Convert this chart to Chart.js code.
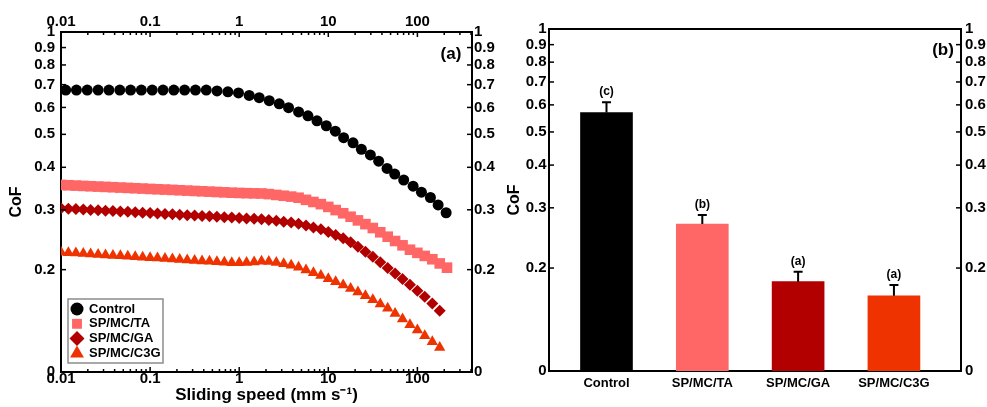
<!DOCTYPE html>
<html>
<head>
<meta charset="utf-8">
<script src="https://cdn.jsdelivr.net/npm/chart.js@4.4.1/dist/chart.umd.min.js"></script>
<style>
  html, body { margin: 0; padding: 0; background: #fff; }
  #wrap { position: relative; width: 987px; height: 407px; }
  canvas { position: absolute; top: 0; }
  #speedChart { left: 0; }
  #barChart { left: 496px; }
</style>
</head>
<body>
<div id="wrap">
  <canvas id="speedChart" width="496" height="407"></canvas>
  <canvas id="barChart" width="491" height="407"></canvas>
</div>
<script>
// ---- (a) CoF vs sliding speed ----
const controlSpeed = [0.0113, 0.0149, 0.0197, 0.0261, 0.0345, 0.0457, 0.0604, 0.0798, 0.1056, 0.1396,
  0.1846, 0.244, 0.323, 0.427, 0.564, 0.746, 0.982, 1.296, 1.677, 2.174,
  2.814, 3.58, 4.64, 5.91, 7.46, 9.5, 11.99, 14.86, 18.95, 23.49,
  29.65, 36.75, 45.65, 55.6, 70.2, 89.5, 110.9, 140, 170.9, 210.1];
const controlCoF = [0.675, 0.675, 0.675, 0.675, 0.675, 0.675, 0.675, 0.675, 0.675, 0.675,
  0.675, 0.675, 0.675, 0.675, 0.671, 0.667, 0.662, 0.651, 0.641, 0.628,
  0.615, 0.599, 0.582, 0.567, 0.548, 0.530, 0.511, 0.489, 0.472, 0.452,
  0.435, 0.417, 0.397, 0.382, 0.367, 0.352, 0.338, 0.326, 0.310, 0.294];

// treated samples were logged on a denser speed grid
const speed = [0.01, 0.0121, 0.0147, 0.0178, 0.0215, 0.0261, 0.0316, 0.0383, 0.0464, 0.0562, 0.0681, 0.0825,
  0.1, 0.121, 0.147, 0.178, 0.215, 0.261, 0.316, 0.383, 0.464, 0.562, 0.681, 0.825,
  1, 1.21, 1.47, 1.78, 2.15, 2.61, 3.16, 3.83, 4.64, 5.62, 6.81, 8.25,
  10, 12.1, 14.7, 17.8, 21.5, 26.1, 31.6, 38.3, 46.4, 56.2, 68.1, 82.5,
  100, 121, 147, 178, 215];
const taCoF = [0.355, 0.3542, 0.3534, 0.3526, 0.3518, 0.351, 0.3503, 0.3495, 0.3487, 0.3479, 0.3471, 0.3463,
  0.3455, 0.3447, 0.344, 0.3432, 0.3424, 0.3416, 0.3408, 0.34, 0.3392, 0.3384, 0.3376, 0.3368,
  0.3362, 0.3357, 0.3353, 0.335, 0.3336, 0.3317, 0.3299, 0.328, 0.3255, 0.3209, 0.3163, 0.3117,
  0.3059, 0.2994, 0.293, 0.2862, 0.2792, 0.2722, 0.2651, 0.2576, 0.25, 0.2428, 0.2358, 0.2289,
  0.2241, 0.2195, 0.2146, 0.2086, 0.2027];
const gaCoF = [0.303, 0.3022, 0.3014, 0.3006, 0.2998, 0.299, 0.2982, 0.2974, 0.2966, 0.2958, 0.295, 0.2942,
  0.2933, 0.2925, 0.2917, 0.2909, 0.2901, 0.2893, 0.2885, 0.2877, 0.2869, 0.2861, 0.2853, 0.2845,
  0.2837, 0.2829, 0.2822, 0.2815, 0.28, 0.2784, 0.2767, 0.2751, 0.2731, 0.2696, 0.2662, 0.2628,
  0.2582, 0.2528, 0.2474, 0.2409, 0.2334, 0.2259, 0.2182, 0.2103, 0.2024, 0.1949, 0.1878, 0.1807,
  0.1735, 0.1664, 0.1591, 0.1513];
const c3gCoF = [0.225, 0.2243, 0.2237, 0.223, 0.2223, 0.2216, 0.221, 0.2203, 0.2196, 0.219, 0.2183, 0.2176,
  0.2169, 0.2163, 0.2156, 0.2149, 0.2143, 0.2136, 0.2129, 0.2122, 0.2116, 0.2109, 0.2102, 0.2097,
  0.2095, 0.2098, 0.2108, 0.2118, 0.2115, 0.21, 0.2082, 0.2062, 0.2032, 0.1995, 0.1958, 0.1921,
  0.1882, 0.1842, 0.1803, 0.1761, 0.1718, 0.1675, 0.1631, 0.1585, 0.1539, 0.1487, 0.1433, 0.1378,
  0.1328, 0.1279, 0.1227, 0.118];

const samples = ['Control', 'SP/MC/TA', 'SP/MC/GA', 'SP/MC/C3G'];
const sampleColors = ['#000000', '#ff6666', '#b20000', '#ee3300'];

// ---- (b) mean CoF per sample ----
const meanCoF = [0.570, 0.269, 0.1825, 0.166];
const errCoF = [0.041, 0.017, 0.0125, 0.0125];
const groupLetters = ['(c)', '(b)', '(a)', '(a)'];

const speedTicks = [0.01, 0.1, 1, 10, 100];
const cofTicks = [0.1, 0.2, 0.3, 0.4, 0.5, 0.6, 0.7, 0.8, 0.9, 1];

const FONT = "'Liberation Sans', Arial, sans-serif";
Chart.defaults.font.family = FONT;
Chart.defaults.font.weight = 'bold';
Chart.defaults.color = '#000';

const pts = (xs, ys) => ys.map((y, i) => ({ x: xs[i], y }));
const cofLabel = v => (v === 0.1 ? '0' : String(v));
const setTicks = list => s => { s.ticks = list.map(v => ({ value: v })); };
const setW = w => s => { s.width = w; };
const setH = h => s => { s.height = h; };
const axisLine = { color: '#000', width: 2 };
const noGrid = { display: false, drawTicks: false };

const speedMinor = [];
speedTicks.forEach(d => { for (let m = 2; m <= 9; m++) if (d * m <= 410) speedMinor.push(d * m); });

// tick marks pointing into the plot, like the original
function innerTicks(spec) {
  return {
    id: 'innerTicks',
    afterDraw(chart) {
      const { ctx, chartArea: a } = chart;
      ctx.save();
      ctx.strokeStyle = '#000';
      ctx.lineWidth = 1.5;
      spec.forEach(({ axis, values, len }) => {
        const s = chart.scales[axis];
        values.forEach(v => {
          const p = s.getPixelForValue(v);
          ctx.beginPath();
          if (s.position === 'left') { ctx.moveTo(a.left, p); ctx.lineTo(a.left + len, p); }
          else if (s.position === 'right') { ctx.moveTo(a.right, p); ctx.lineTo(a.right - len, p); }
          else if (s.position === 'top') { ctx.moveTo(p, a.top); ctx.lineTo(p, a.top + len); }
          else { ctx.moveTo(p, a.bottom); ctx.lineTo(p, a.bottom - len); }
          ctx.stroke();
        });
      });
      ctx.restore();
    }
  };
}

function panelTag(text, x, y) {
  return {
    id: 'panelTag',
    afterDraw(chart) {
      const ctx = chart.ctx;
      ctx.save();
      ctx.font = 'bold 17px ' + FONT;
      ctx.fillStyle = '#000';
      ctx.textAlign = 'center';
      ctx.textBaseline = 'middle';
      ctx.fillText(text, x, y);
      ctx.restore();
    }
  };
}

const legendRadius = [6.5, 7, 7.5, 8];
const boxLegend = {
  id: 'boxLegend',
  afterDraw(chart) {
    const ctx = chart.ctx;
    ctx.save();
    ctx.fillStyle = '#fff';
    ctx.fillRect(68, 299, 95, 64);
    ctx.strokeStyle = '#8c8c8c';
    ctx.lineWidth = 1.5;
    ctx.strokeRect(68, 299, 95, 64);
    ctx.font = 'bold 13px ' + FONT;
    ctx.textBaseline = 'middle';
    chart.data.datasets.forEach((ds, i) => {
      const y = 309 + i * 14.8;
      ctx.fillStyle = ds.backgroundColor;
      Chart.helpers.drawPoint(ctx, { pointStyle: ds.pointStyle, radius: legendRadius[i], rotation: 0, borderWidth: 0 }, 77, y);
      ctx.fillStyle = '#000';
      ctx.fillText(ds.label, 89, y);
    });
    ctx.restore();
  }
};

const errorBars = {
  id: 'errorBars',
  afterDatasetsDraw(chart) {
    const { ctx, scales: { x, y } } = chart;
    ctx.save();
    ctx.strokeStyle = '#000';
    ctx.fillStyle = '#000';
    ctx.lineWidth = 2;
    ctx.font = 'bold 12px ' + FONT;
    ctx.textAlign = 'center';
    ctx.textBaseline = 'middle';
    meanCoF.forEach((m, i) => {
      const px = x.getPixelForValue(i);
      const y0 = y.getPixelForValue(m);
      const y1 = y.getPixelForValue(m + errCoF[i]);
      ctx.beginPath();
      ctx.moveTo(px, y0); ctx.lineTo(px, y1);
      ctx.moveTo(px - 4.5, y1); ctx.lineTo(px + 4.5, y1);
      ctx.stroke();
      ctx.fillText(groupLetters[i], px, y1 - 10);
    });
    ctx.restore();
  }
};

const series = [
  { xs: controlSpeed, ys: controlCoF, style: 'circle', r: 5.5 },
  { xs: speed, ys: taCoF, style: 'rect', r: 7.5 },
  { xs: speed, ys: gaCoF, style: 'rectRot', r: 6 },
  { xs: speed, ys: c3gCoF, style: 'triangle', r: 6.5 }
];

const logSpeed = (pos, h, pad) => ({
  type: 'logarithmic', position: pos, min: 0.01, max: 410,
  afterBuildTicks: setTicks(speedTicks), afterFit: setH(h),
  grid: noGrid, border: axisLine,
  ticks: { callback: v => String(v), font: { size: 15 }, padding: pad, autoSkip: false, maxRotation: 0 }
});
const logCoF = (pos, w, pad) => ({
  type: 'logarithmic', position: pos, min: 0.1, max: 1,
  afterBuildTicks: setTicks(cofTicks), afterFit: setW(w),
  grid: noGrid, border: axisLine,
  ticks: { callback: cofLabel, font: { size: 15 }, padding: pad, autoSkip: false }
});

const xBottom = logSpeed('bottom', 35, -2);
xBottom.title = { display: true, text: 'Sliding speed (mm s\u207B\u00B9)', font: { size: 17 }, padding: { top: 0, bottom: 1 } };
const yLeft = logCoF('left', 61, 6);
yLeft.title = { display: true, text: 'CoF', font: { size: 16 }, padding: { top: 7, bottom: 0 } };

new Chart(document.getElementById('speedChart'), {
  type: 'scatter',
  data: {
    datasets: series.map((s, i) => ({
      label: samples[i],
      data: pts(s.xs, s.ys),
      pointStyle: s.style,
      pointRadius: s.r,
      pointBorderWidth: 0,
      backgroundColor: sampleColors[i],
      borderColor: sampleColors[i],
      showLine: false
    }))
  },
  options: {
    responsive: false, animation: false, devicePixelRatio: 1,
    layout: { padding: 0 },
    plugins: { legend: { display: false }, tooltip: { enabled: false } },
    scales: {
      x: xBottom,
      x2: logSpeed('top', 32, 1),
      y: yLeft,
      y2: logCoF('right', 24, 2)
    }
  },
  plugins: [
    innerTicks([
      { axis: 'x', values: speedTicks, len: 5 }, { axis: 'x', values: speedMinor, len: 3 },
      { axis: 'x2', values: speedTicks, len: 5 }, { axis: 'x2', values: speedMinor, len: 3 },
      { axis: 'y', values: cofTicks, len: 5 }, { axis: 'y2', values: cofTicks, len: 5 }
    ]),
    boxLegend,
    panelTag('(a)', 451, 54)
  ]
});

const yBarLeft = logCoF('left', 53, 2.5);
yBarLeft.title = { display: true, text: 'CoF', font: { size: 16 }, padding: { top: 9, bottom: 0 } };

new Chart(document.getElementById('barChart'), {
  type: 'bar',
  data: {
    datasets: [{
      data: meanCoF.map((m, i) => ({ x: i, y: m })),
      backgroundColor: sampleColors,
      barThickness: 52,
      borderWidth: 0
    }]
  },
  options: {
    responsive: false, animation: false, devicePixelRatio: 1,
    layout: { padding: 0 },
    plugins: { legend: { display: false }, tooltip: { enabled: false } },
    scales: {
      x: {
        type: 'linear', position: 'bottom', min: -0.6, max: 3.7, offset: false,
        afterBuildTicks: setTicks([0, 1, 2, 3]), afterFit: setH(36),
        grid: noGrid, border: axisLine,
        ticks: { callback: v => samples[v] ?? '', font: { size: 13 }, padding: 5, autoSkip: false, maxRotation: 0 }
      },
      xTop: {
        type: 'linear', position: 'top', min: -0.6, max: 3.7, offset: false, afterFit: setH(29),
        grid: noGrid, border: axisLine, ticks: { display: false }
      },
      y: yBarLeft,
      y2: logCoF('right', 26, 4)
    }
  },
  plugins: [
    innerTicks([
      { axis: 'y', values: cofTicks, len: 5 }, { axis: 'y2', values: cofTicks, len: 5 }
    ]),
    errorBars,
    panelTag('(b)', 447, 50)
  ]
});
</script>
</body>
</html>
